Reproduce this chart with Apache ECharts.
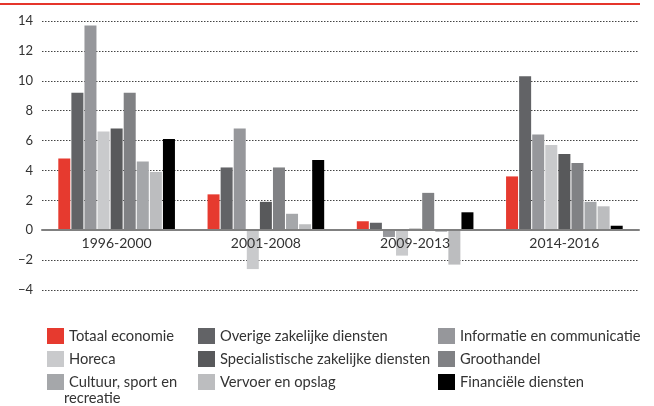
<!DOCTYPE html>
<html lang="nl">
<head>
	<meta charset="UTF-8">
	<title>Productiviteitsgroei per sector</title>
	<style>
		html, body { margin: 0; padding: 0; background: #fff; }
	</style>
</head>
<body>
	<div id="chart" style="width: 654px;height:406px;"></div>
	<script src="https://cdn.jsdelivr.net/npm/echarts@6/dist/echarts.min.js"></script>
	<script>
		// periodes
		var periods = ['1996-2000', '2001-2008', '2009-2013', '2014-2016'];

		// sectoren, in volgorde van de staven
		var sectors = [
			'Totaal economie',
			'Overige zakelijke diensten',
			'Informatie en communicatie',
			'Horeca',
			'Specialistische zakelijke diensten',
			'Groothandel',
			'Cultuur, sport en recreatie',
			'Vervoer en opslag',
			'Financiële diensten'
		];
		var colors = ['#e63a2f', '#626366', '#96979b', '#c9cacc', '#58595b', '#808184', '#a5a7aa', '#bcbdbf', '#000000'];

		// waarden per sector (per periode)
		var totaalEconomie = [4.8, 2.4, 0.6, 3.6];
		var overigeZakelijk = [9.2, 4.2, 0.5, 10.3];
		var informatieCommunicatie = [13.7, 6.8, -0.45, 6.4];
		var horeca = [6.6, -2.6, -1.7, 5.7];
		var specialistischeZakelijk = [6.8, 1.9, 0.1, 5.1];
		var groothandel = [9.2, 4.2, 2.5, 4.5];
		var cultuurSport = [4.6, 1.1, -0.1, 1.9];
		var vervoerOpslag = [3.9, 0.4, -2.3, 1.6];
		var financieel = [6.1, 4.7, 1.2, 0.3];

		var values = [totaalEconomie, overigeZakelijk, informatieCommunicatie, horeca,
			specialistischeZakelijk, groothandel, cultuurSport, vervoerOpslag, financieel];

		// y-as
		var yMin = -4, yMax = 14, yStep = 2;

		var font = 'Lato';
		var chart = echarts.init(document.getElementById('chart'));

		var series = sectors.map(function (name, i) {
			return {
				name: name,
				type: 'bar',
				data: values[i],
				barWidth: 12,
				barGap: '9%',
				itemStyle: { color: colors[i] },
				emphasis: { disabled: true }
			};
		});

		function legendCol(left, names) {
			return {
				orient: 'vertical',
				left: left,
				top: 323,
				itemWidth: 17,
				itemHeight: 16,
				itemGap: 7,
				icon: 'rect',
				selectedMode: false,
				data: names,
				formatter: function (n) {
					return n === 'Cultuur, sport en recreatie' ? 'Cultuur, sport en' : n;
				},
				textStyle: { fontFamily: font, fontSize: 14.7, color: '#333' }
			};
		}

		var option = {
			animation: false,
			grid: { left: 42, right: 15, top: 21, bottom: 116 },
			legend: [
				legendCol(42, [sectors[0], sectors[3], sectors[6]]),
				legendCol(193, [sectors[1], sectors[4], sectors[7]]),
				legendCol(433, [sectors[2], sectors[5], sectors[8]])
			],
			graphic: [
				{
					type: 'rect',
					shape: { x: 0, y: 3, width: 640, height: 2 },
					style: { fill: '#e5352b' }
				},
				{
					type: 'text',
					left: 64,
					top: 391,
					style: { text: 'recreatie', font: '14.7px Lato', fill: '#333' }
				}
			],
			xAxis: {
				type: 'category',
				data: periods,
				axisLine: { onZero: true, lineStyle: { color: '#808080', width: 2 } },
				axisTick: { show: false },
				// labels staan direct onder de nullijn
				axisLabel: { fontFamily: font, fontSize: 14, color: '#333', margin: -54 },
				z: 5
			},
			yAxis: {
				type: 'value',
				min: yMin,
				max: yMax,
				interval: yStep,
				axisLine: { show: false },
				axisTick: { show: false },
				axisLabel: {
					fontFamily: font, fontSize: 13, color: '#333', margin: 9,
					formatter: function (v) { return String(v).replace('-', '\u2212'); }
				},
				splitLine: { lineStyle: { color: '#444', type: [1.5, 1.5], width: 1 } }
			},
			series: series
		};

		chart.setOption(option);
	</script>
</body>
</html>
